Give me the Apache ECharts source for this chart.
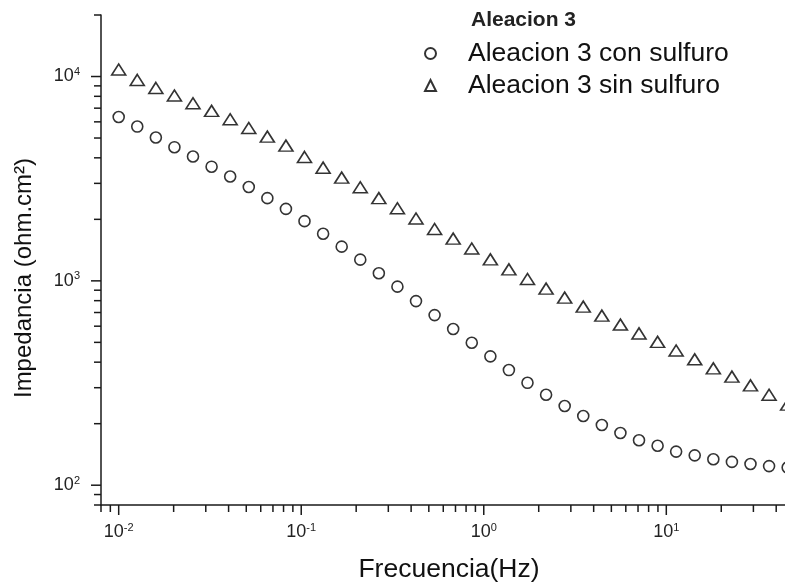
<!DOCTYPE html>
<html>
<head>
<meta charset="utf-8">
<script src="https://cdn.jsdelivr.net/npm/echarts@6/dist/echarts.min.js"></script>
<style>
html,body{margin:0;padding:0;background:#fff;}
#chart{width:785px;height:583px;}
</style>
</head>
<body>
<div id="chart"></div>
<script>
// Frequencies (Hz)
const freq = [0.0100, 0.01264, 0.01598, 0.02020, 0.02553, 0.03228, 0.04081, 0.05160, 0.06523, 0.08245,
  0.1042, 0.1318, 0.1666, 0.2106, 0.2662, 0.3365, 0.4254, 0.5378, 0.6799, 0.8595,
  1.087, 1.373, 1.736, 2.195, 2.775, 3.508, 4.435, 5.606, 7.087, 8.960,
  11.32, 14.31, 18.10, 22.88, 28.92, 36.56, 46.22];
// Impedance (ohm.cm2)
const conSulfuro = [6340, 5690, 5030, 4510, 4060, 3620, 3240, 2880, 2540, 2250,
  1960, 1700, 1470, 1270, 1090, 937, 796, 680, 581, 498,
  427, 366, 317, 277, 244, 218, 197, 180, 166, 156,
  146, 140, 134, 130, 127, 124, 122];
const sinSulfuro = [10820, 9620, 8790, 8070, 7400, 6790, 6180, 5600, 5080, 4590,
  4040, 3580, 3200, 2870, 2540, 2265, 2018, 1794, 1610, 1439,
  1274, 1138, 1021, 916, 828, 748, 676, 611, 553, 503,
  456, 413, 373, 340, 308, 277, 248];
const seriesNames = ['Aleacion 3 con sulfuro', 'Aleacion 3 sin sulfuro'];
const legendTitle = 'Aleacion 3';
const xTitle = 'Frecuencia(Hz)';
const yTitle = 'Impedancia (ohm.cm\u00B2)';

const xMin = 0.008, xMax = 52, yMin = 80, yMax = 20000;
const xMajorTicks = [0.01, 0.1, 1, 10];
const xMinorTicks = [0.008, 0.009, 0.02, 0.03, 0.04, 0.05, 0.06, 0.07, 0.08, 0.09,
  0.2, 0.3, 0.4, 0.5, 0.6, 0.7, 0.8, 0.9, 2, 3, 4, 5, 6, 7, 8, 9, 20, 30, 40, 50];
const yMajorTicks = [100, 1000, 10000];
const yMinorTicks = [80, 90, 200, 300, 400, 500, 600, 700, 800, 900,
  2000, 3000, 4000, 5000, 6000, 7000, 8000, 9000, 20000];

const FONT = "'Liberation Sans', Arial, sans-serif";
const INK = '#1a1a1a';

function tickSeries(axis, values, len) {
  return {
    type: 'custom',
    coordinateSystem: 'cartesian2d',
    silent: true,
    clip: false,
    z: 5,
    data: values.map(v => axis === 'x' ? [v, yMin] : [xMin, v]),
    renderItem: function (params, api) {
      const pt = api.coord([api.value(0), api.value(1)]);
      const cs = params.coordSys;
      if (axis === 'x') {
        const y0 = cs.y + cs.height;
        return {type: 'line', shape: {x1: pt[0], y1: y0, x2: pt[0], y2: y0 + len},
          style: {stroke: INK, lineWidth: 1.5}};
      } else {
        const x0 = cs.x;
        return {type: 'line', shape: {x1: x0, y1: pt[1], x2: x0 - len, y2: pt[1]},
          style: {stroke: INK, lineWidth: 1.5}};
      }
    }
  };
}

function powLabel(v) {
  const e = Math.round(Math.log10(v));
  return '{b|10}{s|' + e + '}';
}
const richLabel = {
  b: {fontSize: 18, fontFamily: FONT, color: '#222'},
  s: {fontSize: 11, fontFamily: FONT, color: '#222', padding: [0, 0, 9, 0]}
};

const chart = echarts.init(document.getElementById('chart'), null, {renderer: 'canvas'});
chart.setOption({
  backgroundColor: '#fff',
  animation: false,
  title: {
    text: legendTitle,
    left: 471, top: 10, padding: 0,
    textStyle: {fontSize: 21, fontWeight: 'bold', fontFamily: FONT, color: '#222'}
  },
  legend: {
    orient: 'vertical',
    left: 424, top: 40, padding: 0,
    itemWidth: 11, itemHeight: 11, itemGap: 5,
    data: seriesNames,
    textStyle: {fontSize: 26.5, lineHeight: 25, fontFamily: FONT, color: '#111', padding: [0, 0, 0, 27]}
  },
  grid: {left: 101, top: 15, right: -12, bottom: 78, containLabel: false, outerBoundsMode: 'none'},
  xAxis: {
    type: 'log', logBase: 10, min: xMin, max: xMax,
    name: xTitle, nameLocation: 'middle', nameGap: 51,
    nameTextStyle: {fontSize: 26.5, fontFamily: FONT, color: '#111'},
    axisLine: {show: true, onZero: false, lineStyle: {color: INK, width: 1.5}},
    axisTick: {show: false},
    splitLine: {show: false},
    axisLabel: {margin: 17, fontSize: 18, fontFamily: FONT, showMinLabel: false, showMaxLabel: false,
      formatter: powLabel, rich: richLabel}
  },
  yAxis: {
    type: 'log', logBase: 10, min: yMin, max: yMax,
    name: yTitle, nameLocation: 'middle', nameGap: 65,
    nameTextStyle: {fontSize: 24, fontFamily: FONT, color: '#111', padding: [0, 36, 0, 0]},
    axisLine: {show: true, onZero: false, lineStyle: {color: INK, width: 1.5}},
    axisTick: {show: false},
    splitLine: {show: false},
    axisLabel: {margin: 21, fontSize: 18, fontFamily: FONT, showMinLabel: false, showMaxLabel: false,
      formatter: powLabel, rich: richLabel}
  },
  series: [
    {
      name: seriesNames[0], type: 'scatter',
      data: freq.map((f, i) => [f, conSulfuro[i]]),
      symbol: 'circle', symbolSize: 11,
      itemStyle: {color: '#fff', borderColor: '#000', borderWidth: 1.6}
    },
    {
      name: seriesNames[1], type: 'scatter',
      data: freq.map((f, i) => [f, sinSulfuro[i]]),
      symbol: 'triangle', symbolSize: [14, 11],
      itemStyle: {color: '#fff', borderColor: '#000', borderWidth: 1.6}
    },
    tickSeries('x', xMajorTicks, 10),
    tickSeries('x', xMinorTicks, 7),
    tickSeries('y', yMajorTicks, 10),
    tickSeries('y', yMinorTicks, 7)
  ]
});
</script>
</body>
</html>
